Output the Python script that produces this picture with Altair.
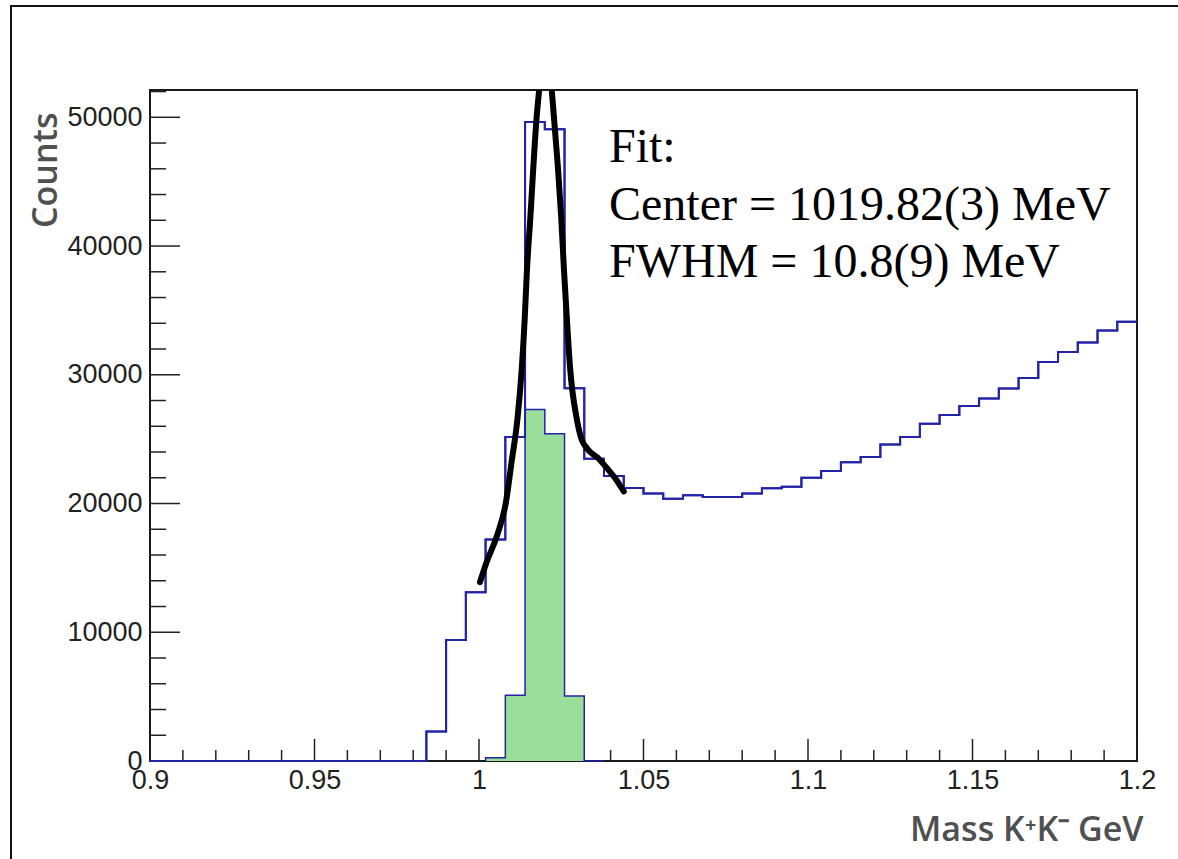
import altair as alt
import pandas as pd

# ---------------- data ----------------
BIN_START = 0.9
BIN_WIDTH = 0.006
# 50 bins from 0.9 to 1.2 (blue histogram, all events)
BLUE_COUNTS = [0] * 14 + [
    2300, 9400, 13100, 17200, 25170, 49640, 49070, 28950, 23480, 22140,
    21200, 20780, 20370, 20640, 20500, 20500, 20780, 21180, 21300, 22000,
    22530, 23200, 23610, 24580, 25160, 26190, 26870, 27570, 28150, 28940,
    29750, 30990, 31760, 32500, 33440, 34120,
]
# green (selected) histogram, starting at 1.002
GREEN_START = 1.002
GREEN_COUNTS = [250, 5100, 27310, 25420, 5050, 0]

# fit curve
FIT_X = [1.0003, 1.0023, 1.0055, 1.0082, 1.0099, 1.0117, 1.0130, 1.0139, 1.0146,
         1.0156, 1.0165, 1.0175, 1.0183, 1.0192, 1.0202, 1.0212, 1.0221, 1.0228,
         1.0240, 1.0250, 1.0258, 1.0267, 1.0277, 1.0297, 1.0311, 1.0329, 1.0364,
         1.0390, 1.0415, 1.0440]
FIT_Y = [13900, 15440, 17520, 20110, 23220, 26600, 30490, 34380, 38270,
         42170, 46060, 49950, 52150, 54300, 55000, 54300, 52150, 49950,
         46060, 42170, 38270, 34380, 30490, 26600, 25040, 24260, 23480,
         22710, 21930, 20940]

X_MAJOR = [0.9, 0.95, 1.0, 1.05, 1.1, 1.15, 1.2]
X_MINOR = [round(0.9 + 0.01 * i, 3) for i in range(31) if i % 5 != 0]
Y_MAJOR = [0, 10000, 20000, 30000, 40000, 50000]
Y_MINOR = [v for v in range(2000, 52001, 2000) if v % 10000 != 0]

TEXT_LINES = ["Fit:", "Center = 1019.82(3) MeV", "FWHM = 10.8(9) MeV"]

X_DOMAIN = [0.9, 1.2]
Y_DOMAIN = [0, 52120]

# ---------------- tables ----------------
n = len(BLUE_COUNTS)
blue_x = [round(BIN_START + i * BIN_WIDTH, 4) for i in range(n)] + [round(BIN_START + n * BIN_WIDTH, 4)]
blue_y = BLUE_COUNTS + [BLUE_COUNTS[-1]]
blue_df = pd.DataFrame({"x": blue_x, "y": blue_y})

g = len(GREEN_COUNTS)
green_x = [GREEN_START] + [round(GREEN_START + i * BIN_WIDTH, 4) for i in range(g)] + [round(GREEN_START + g * BIN_WIDTH, 4)]
green_y = [0] + GREEN_COUNTS + [0]
green_df = pd.DataFrame({"x": green_x, "y": green_y})

fit_df = pd.DataFrame({"x": FIT_X, "y": FIT_Y})

xs = alt.Scale(domain=X_DOMAIN, nice=False, zero=False)
ys = alt.Scale(domain=Y_DOMAIN, nice=False, zero=False)

W, H = 987, 671
AXC = "#222222"
TITLE_C = "#505050"

x_axis = alt.Axis(
    values=X_MAJOR, format="~g", title="Mass K\u207aK\u207b GeV",
    ticks=False, tickSize=0, domain=False, grid=False,
    labelFont="Liberation Sans", labelFontSize=27, labelColor=AXC, labelPadding=6,
    labelFlush=False,
    titleFont="Open Sans", titleFontWeight=600, titleFontSize=34, titleColor=TITLE_C,
    titleAlign="right", titleBaseline="alphabetic", titleX=993, titleY=79)
y_axis = alt.Axis(
    values=Y_MAJOR, format="d", title="Counts",
    ticks=False, tickSize=0, domain=False, grid=False,
    labelFont="Liberation Sans", labelFontSize=27, labelColor=AXC, labelPadding=8,
    labelFlush=False,
    titleFont="Open Sans", titleFontWeight=600, titleFontSize=34, titleColor=TITLE_C,
    titleAngle=270, titleAlign="right", titleBaseline="alphabetic", titleX=-94, titleY=22)

# ---------------- histograms (first layer carries the axes) ----------------
blue = alt.Chart(blue_df).mark_line(interpolate="step-after", color="#2323a8", strokeWidth=2).encode(
    x=alt.X("x:Q", scale=xs, axis=x_axis, title="Mass K\u207aK\u207b GeV"),
    y=alt.Y("y:Q", scale=ys, axis=y_axis, title="Counts"),
)

# ---------------- ticks (ROOT style, inside the frame) ----------------
ymaj = alt.Chart(pd.DataFrame({"y": Y_MAJOR})).mark_rule(color=AXC, strokeWidth=1.5).encode(
    y=alt.Y("y:Q", scale=ys), x=alt.value(0), x2=alt.value(30))
ymin = alt.Chart(pd.DataFrame({"y": Y_MINOR})).mark_rule(color=AXC, strokeWidth=1.5).encode(
    y=alt.Y("y:Q", scale=ys), x=alt.value(0), x2=alt.value(16))
xmaj = alt.Chart(pd.DataFrame({"x": X_MAJOR})).mark_rule(color=AXC, strokeWidth=1.5).encode(
    x=alt.X("x:Q", scale=xs), y=alt.value(H), y2=alt.value(H - 22))
xmin = alt.Chart(pd.DataFrame({"x": X_MINOR})).mark_rule(color=AXC, strokeWidth=1.5).encode(
    x=alt.X("x:Q", scale=xs), y=alt.value(H), y2=alt.value(H - 11))

green_area = alt.Chart(green_df).mark_area(interpolate="step-after", color="#9ade9a", opacity=1).encode(
    x=alt.X("x:Q", scale=xs), y=alt.Y("y:Q", scale=ys))
green_line = alt.Chart(green_df).mark_line(interpolate="step-after", color="#2323a8", strokeWidth=1.5).encode(
    x=alt.X("x:Q", scale=xs), y=alt.Y("y:Q", scale=ys))
blue_top = alt.Chart(blue_df).mark_line(interpolate="step-after", color="#2323a8", strokeWidth=2).encode(
    x=alt.X("x:Q", scale=xs), y=alt.Y("y:Q", scale=ys))

fit = alt.Chart(fit_df).mark_line(color="black", strokeWidth=6, clip=True, interpolate="monotone",
                                  strokeCap="round", strokeJoin="round").encode(
    x=alt.X("x:Q", scale=xs), y=alt.Y("y:Q", scale=ys))

# ---------------- text ----------------
txt_layers = []
for i, line in enumerate(TEXT_LINES):
    txt_layers.append(
        alt.Chart(pd.DataFrame({"t": [line]})).mark_text(
            align="left", baseline="alphabetic", font="Liberation Serif", fontSize=48, color="black"
        ).encode(text="t:N", x=alt.value(459), y=alt.value(72 + 57.5 * i))
    )

# outer canvas frame (left/top visible)
outer = alt.Chart(pd.DataFrame({"a": [0]})).mark_rect(
    filled=False, stroke="#111111", strokeWidth=2, clip=False).encode(
    x=alt.value(-139), x2=alt.value(1060), y=alt.value(-84), y2=alt.value(800))

chart = alt.layer(
    blue, ymaj, ymin, xmaj, xmin, green_area, green_line, blue_top, fit, *txt_layers, outer
).properties(
    width=W, height=H,
    autosize=alt.AutoSizeParams(type="none"),
    padding={"left": 150, "top": 90, "right": 41, "bottom": 98},
    background="white",
).configure_view(stroke="#1a1a1a", strokeWidth=2)

chart.save("out.html", embed_options={"renderer": "svg", "actions": False})
